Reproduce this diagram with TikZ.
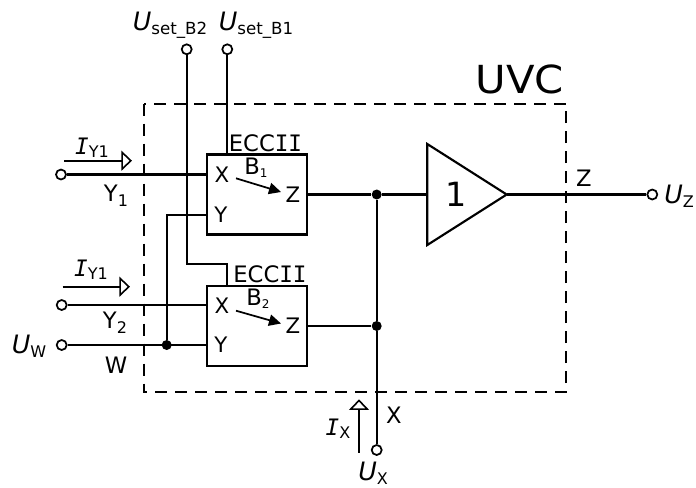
\documentclass[tikz,border=0pt]{standalone}
\usepackage{fontspec}
\usepackage{graphicx}
\setmainfont{DejaVu Sans}
\newfontfamily\monof{DejaVu Sans Mono}
\usetikzlibrary{arrows.meta}
\newcommand{\fs}[1]{\fontsize{#1}{#1}\selectfont}
\newcommand{\Ulab}[2]{{\fs{19}\itshape U}\raisebox{-3pt}{\fs{#2}#1}}
\newcommand{\Ilab}[1]{{\monof\itshape\fs{17}I}\raisebox{-2.5pt}{\fs{12}#1}}
\newcommand{\Pinsub}[2]{{\fs{17}#1}\raisebox{-3.5pt}{\fs{12}#2}}
\begin{document}
\begin{tikzpicture}[x=0.75pt,y=-0.75pt,
  wire/.style={line width=1.6pt},
  ecc/.style={draw,line width=1.6pt,minimum width=75pt,minimum height=60pt,inner sep=0},
  term/.style={circle,draw,fill=white,line width=1.3pt,inner sep=0,minimum size=7.5pt},
  jdot/.style={circle,fill,inner sep=0,minimum size=7.5pt},
  frame/.style={dash pattern=on 9pt off 6pt,line width=1.5pt},
  cur/.style={line width=1.2pt,-{Triangle[open,length=8pt,width=15pt,line width=1.2pt]}},
  barrow/.style={line width=1.3pt,-{Triangle[length=9pt,width=8.5pt]}},
  lab/.style={inner sep=0,font=\fs{17}},
  pin/.style={inner sep=0,font=\fs{16}}]
\useasboundingbox (0,0) rectangle (696,487);

% frame
\draw[frame] (143.7,103.7) rectangle (566,392.3);
\node[inner sep=0,font=\fs{29}] (uvc) at (520,79) {\scalebox{1.08}[1]{UVC}};

% ECCII blocks
\node[ecc] (b1) at (257,194.5) {};
\node[ecc] (b2) at (257,326) {};
\node[inner sep=0,font=\fs{17}] (e1) at (265.5,143) {ECC{\monof II}};
\node[inner sep=0,font=\fs{17}] (e2) at (270,274) {ECC{\monof II}};
\node[pin] (b1x) at (222,175) {X};
\node[pin] (b1y) at (221,215) {Y};
\node[pin] (b1z) at (293,195) {Z};
\node[pin] (b2x) at (222,306) {X};
\node[pin] (b2y) at (221,345) {Y};
\node[pin] (b2z) at (293,326) {Z};
\node[inner sep=0] (b1b) at (256,168) {{\fs{17}B}\raisebox{-2pt}{\fs{9}1}};
\node[inner sep=0] (b2b) at (258,299) {{\fs{17}B}\raisebox{-2pt}{\fs{9}2}};
\coordinate (a1s) at (236,178.3); \coordinate (a1e) at (281,192);
\coordinate (a2s) at (236,310.7); \coordinate (a2e) at (281,323.5);
\draw[barrow] (a1s) -- (a1e);
\draw[barrow] (a2s) -- (a2e);

% buffer
\coordinate (bufin) at (427.3,194.5);
\coordinate (bufout) at (506.7,194.5);
\coordinate (buft) at (427.3,144);
\coordinate (bufb) at (427.3,245);
\draw[line width=1.6pt,line join=miter] (buft) -- (bufout) -- (bufb) -- cycle;
\node[inner sep=0,font=\fs{25}] (one) at (456,194.5) {1};

% terminals
\node[term] (uB2) at (186.7,49.3) {};
\node[term] (uB1) at (227.3,49.3) {};
\node[term] (ty1) at (61,174.5) {};
\node[term] (ty2) at (61.7,305) {};
\node[term] (tw) at (61.7,345) {};
\node[term] (tz) at (652.3,194.5) {};
\node[term] (tx) at (376.7,450) {};

% junctions
\node[jdot] (j1) at (376.7,194.5) {};
\node[jdot] (j2) at (376.7,326) {};
\node[jdot] (j3) at (166.7,345) {};

% wires
\coordinate (k1) at (186.7,264);
\coordinate (k2) at (226.7,264);
\coordinate (b1Y) at (207,215);
\coordinate (k3) at (166.7,215);
\draw[wire] (uB1) -- (uB1 |- b1.north);
\draw[wire] (uB2) -- (k1) -- (k2) -- (k2 |- b2.north);
\draw[wire] (ty1) -- (ty1 -| b1.west);
\draw[wire] (b1Y) -- (k3) -- (j3);
\draw[wire] (ty2) -- (ty2 -| b2.west);
\draw[wire] (tw) -- (tw -| b2.west);
\draw[wire] (b1.east) -- (j1) -- (bufin);
\draw[wire] (b2.east) -- (j2);
\draw[wire] (j1) -- (j2) -- (tx);
\draw[wire] (bufout) -- (tz);

% current arrows
\coordinate (c1s) at (64,160.7); \coordinate (c1e) at (132,160.7);
\coordinate (c2s) at (62.7,286.7); \coordinate (c2e) at (130,286.7);
\coordinate (c3s) at (359,452.7); \coordinate (c3e) at (359,399.3);
\draw[cur] (c1s) -- (c1e);
\draw[cur] (c2s) -- (c2e);
\draw[cur] (c3s) -- (c3e);

% labels
\node[inner sep=0] (lB2) at (170,25) {\Ulab{set\_B2}{12.5}};
\node[inner sep=0] (lB1) at (256,25) {\Ulab{set\_B1}{12.5}};
\node[inner sep=0] (li1) at (92,148) {\Ilab{Y1}};
\node[inner sep=0] (li2) at (91,270) {\Ilab{Y1}};
\node[inner sep=0] (ly1) at (116,196) {\Pinsub{Y}{1}};
\node[inner sep=0] (ly2) at (115,323) {\Pinsub{Y}{2}};
\node[lab] (lw) at (116,365) {W};
\node[inner sep=0] (luw) at (29,346) {\Ulab{W}{12}};
\node[lab] (lz) at (584,178) {Z};
\node[inner sep=0,anchor=west] (luz) at (664,196) {\Ulab{Z}{12}};
\node[lab] (lx) at (394,415) {X};
\node[inner sep=0] (lix) at (338,429) {\Ilab{X}};
\node[inner sep=0] (lux) at (373,473) {\Ulab{X}{12}};
\end{tikzpicture}
\end{document}
